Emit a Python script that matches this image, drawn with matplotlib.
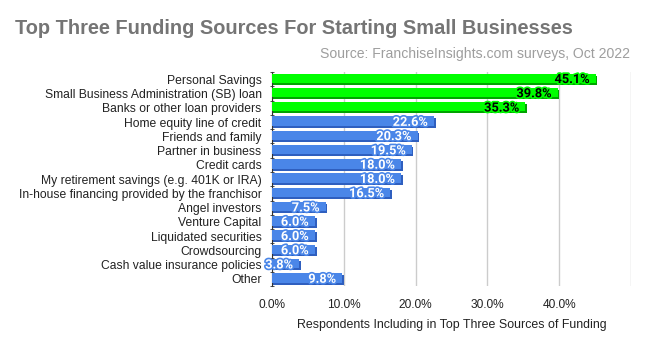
import numpy as np
import matplotlib.pyplot as plt
import matplotlib.patheffects as pe

sources = ["Personal Savings", "Small Business Administration (SB) loan",
           "Banks or other loan providers", "Home equity line of credit",
           "Friends and family", "Partner in business", "Credit cards",
           "My retirement savings (e.g. 401K or IRA)",
           "In-house financing provided by the franchisor", "Angel investors",
           "Venture Capital", "Liquidated securities", "Crowdsourcing",
           "Cash value insurance policies", "Other"]
pct = [45.1, 39.8, 35.3, 22.6, 20.3, 19.5, 18.0, 18.0, 16.5, 7.5, 6.0, 6.0, 6.0, 3.8, 9.8]
top_three = 3

fig = plt.figure(figsize=(6.48, 3.37), dpi=100)
ax = fig.add_axes([0.4198, 0.151, 0.554, 0.635])

y = np.arange(len(sources))
green, green_dk = "#00ff00", "#00a400"
blue, blue_dk = "#4a86e8", "#2f5fbf"
cols = [green if i < top_three else blue for i in range(len(sources))]
dark = [green_dk if i < top_three else blue_dk for i in range(len(sources))]

# shadow bars for the 3d look
ax.barh(y + 0.07, np.array(pct) + 0.2, height=0.66, color=dark, zorder=2)
ax.barh(y - 0.07, pct, height=0.66, color=cols, zorder=3)

for i, v in enumerate(pct):
    if i < top_three:
        fc, ec = "black", green
    else:
        fc, ec = "white", blue
    ax.text(v - 0.9, i + 0.02, f"{v:.1f}%", ha="right", va="center",
            fontsize=9.2, fontweight="bold", family="Roboto", color=fc,
            zorder=5, clip_on=False,
            path_effects=[pe.withStroke(linewidth=2.4, foreground=ec)])

ax.set_ylim(len(sources) - 0.5, -0.5)
ax.set_xlim(0, 50)
ax.set_yticks(y)
ax.set_yticklabels(sources, fontsize=8.75, family="Liberation Sans", color="#222222")
ax.set_yticks(np.arange(-0.5, len(sources), 1), minor=True)
ax.tick_params(axis="y", which="major", length=0, pad=7.5)
ax.tick_params(axis="y", which="minor", length=3, direction="inout", color="#333333")

ticks = [0, 10, 20, 30, 40]
ax.set_xticks(ticks + [50])
ax.set_xticklabels([f"{t:.1f}%" for t in ticks] + [""], fontsize=8.6,
                   family="Liberation Sans", color="#222222")
ax.tick_params(axis="x", length=0, pad=9)
ax.grid(axis="x", color="#cccccc", linewidth=1, zorder=0)
ax.set_axisbelow(True)
for s in ["top", "right", "bottom"]:
    ax.spines[s].set_visible(False)
ax.spines["left"].set_color("#333333")
ax.set_xlabel("Respondents Including in Top Three Sources of Funding", fontsize=8.9,
              family="Liberation Sans", color="#222222", labelpad=6)

fig.text(15 / 648, 1 - 28 / 337, "Top Three Funding Sources For Starting Small Businesses",
         fontsize=14.4, fontweight="bold", family="Liberation Sans", color="#757575",
         ha="left", va="center")
fig.text(630 / 648, 1 - 54 / 337, "Source: FranchiseInsights.com surveys, Oct 2022",
         fontsize=10.1, family="Liberation Sans", color="#9e9e9e", ha="right", va="center")

fig.savefig("out.png", dpi=100)
